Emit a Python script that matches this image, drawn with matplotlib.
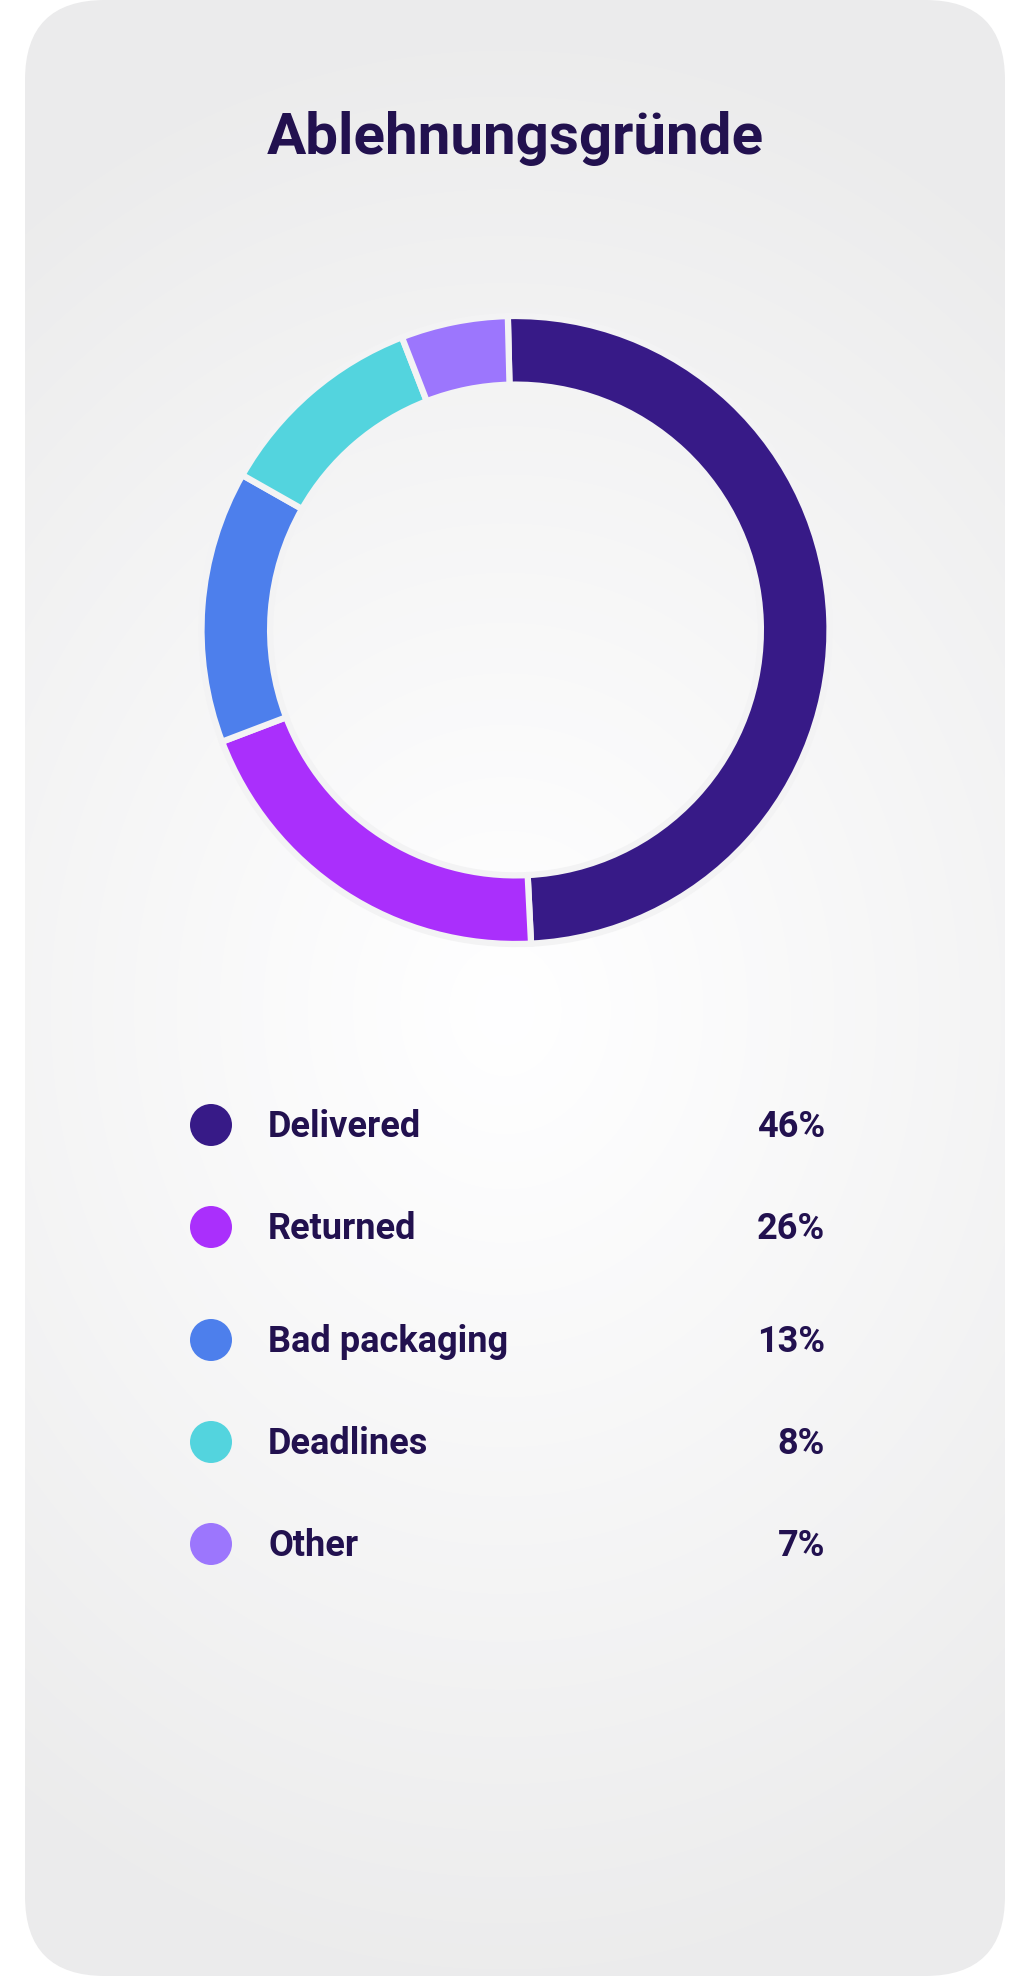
import numpy as np
import matplotlib
matplotlib.use("Agg")
import matplotlib.pyplot as plt
from matplotlib.patches import FancyBboxPatch

# Daten
title = "Ablehnungsgründe"
categories = ["Delivered", "Returned", "Bad packaging", "Deadlines", "Other"]
percent_labels = [46, 26, 13, 8, 7]
# Anteile, wie sie im Ring gezeichnet sind
ring_shares = [49.6, 20.0, 14.0, 10.9, 5.5]
colors = ["#371a87", "#aa2ffc", "#4d7fec", "#53d4de", "#9c76fd"]

text_color = "#22114f"
W, H = 1035, 1976

fig = plt.figure(figsize=(W / 100, H / 100), dpi=100)
fig.patch.set_facecolor("white")

# Hintergrund-Achse in Pixelkoordinaten
bg = fig.add_axes([0, 0, 1, 1])
bg.set_xlim(0, W)
bg.set_ylim(H, 0)
bg.axis("off")

# Karte mit radialem Verlauf
card = FancyBboxPatch((25 + 80, 0 + 80), 980 - 160, H - 160,
                      boxstyle="round,pad=80", facecolor="none", edgecolor="none")
bg.add_patch(card)
yy, xx = np.mgrid[0:H, 0:W]
dist = np.sqrt((xx - 505) ** 2 + ((yy - 1010) * 0.85) ** 2)
t = np.clip(dist / 820, 0, 1) ** 1.1
light = 1.0 - t * (1.0 - 0.925)
img = np.dstack([light, light, light * 1.002])
img = np.clip(img, 0, 1)
im = bg.imshow(img, extent=(0, W, H, 0), zorder=0)
im.set_clip_path(card)

# Titel
bg.text(515, 154, title, ha="center", va="baseline", fontsize=42,
        fontweight="bold", family="Roboto", color=text_color)

# Donut (Kante frisst halbe Linienbreite, daher etwas größer)
cx, cy, r = 515.5, 630, 314
ax = fig.add_axes([(cx - r) / W, 1 - (cy + r) / H, 2 * r / W, 2 * r / H])
ax.pie(ring_shares, colors=colors, startangle=91.4, counterclock=False,
       radius=1.0, wedgeprops=dict(width=0.2185, edgecolor="#f3f3f4", linewidth=4.5))
ax.set_xlim(-1.0, 1.0)
ax.set_ylim(-1.0, 1.0)
ax.set_aspect("equal")
ax.axis("off")

# Legende
row_y = [1125, 1227, 1340, 1442, 1544]
for i, (name, pct) in enumerate(zip(categories, percent_labels)):
    y = row_y[i]
    bg.scatter([211], [y], s=(2 * 21 * 0.72) ** 2, color=colors[i], zorder=3,
               edgecolors="none")
    bg.text(268, y + 12, name, ha="left", va="baseline", fontsize=26,
            fontweight="bold", family="Roboto", color=text_color)
    bg.text(825, y + 12, f"{pct}%", ha="right", va="baseline", fontsize=26,
            fontweight="bold", family="Roboto", color=text_color)

fig.savefig("out.png", dpi=100, facecolor="white")
